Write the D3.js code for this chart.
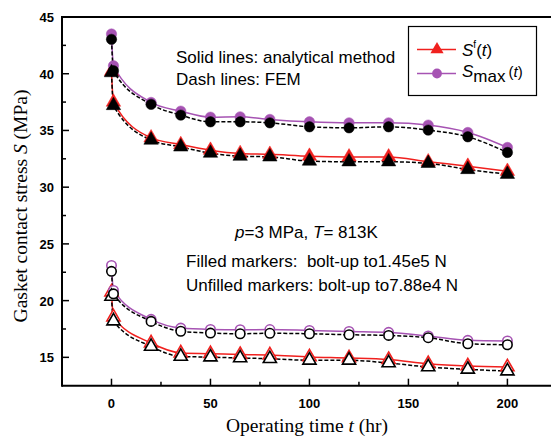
<!DOCTYPE html>
<html>
<head>
<meta charset="utf-8">
<script src="https://cdn.jsdelivr.net/npm/d3@7"></script>
<style>
	body { margin: 0; background: #fff; }
	svg { display: block; }
	.sans { font-family: "Liberation Sans", Arial, sans-serif; }
	.serif { font-family: "Liberation Serif", "Times New Roman", serif; }
</style>
</head>
<body>
<svg id="chart" width="551" height="438"></svg>
<script>
// operating time (hr)
const times = [0, 1, 20, 35, 50, 65, 80, 100, 120, 140, 160, 180, 200];

// bolt-up to 1.45e5 N (filled markers)
const sfAnalyticHigh = [40.2, 37.5, 34.35, 33.76, 33.26, 32.97, 32.9, 32.73, 32.67, 32.67, 32.24, 31.85, 31.4];
const sfFemHigh = [40.1, 37.2, 34.15, 33.55, 33.0, 32.73, 32.67, 32.3, 32.24, 32.24, 32.1, 31.56, 31.14];
const smaxAnalyticHigh = [43.5, 40.7, 37.47, 36.7, 36.17, 36.2, 35.97, 35.76, 35.67, 35.67, 35.47, 34.82, 33.5];
const smaxFemHigh = [43.03, 40.26, 37.3, 36.35, 35.76, 35.76, 35.67, 35.32, 35.23, 35.32, 35.03, 34.44, 33.06];

// bolt-up to 7.88e4 N (unfilled markers)
const sfAnalyticLow = [20.75, 18.55, 16.26, 15.38, 15.32, 15.24, 15.2, 15.03, 14.94, 14.8, 14.44, 14.24, 14.15];
const sfFemLow = [20.37, 18.2, 15.96, 15.08, 15.02, 14.94, 14.88, 14.74, 14.74, 14.5, 14.15, 13.94, 13.79];
const smaxAnalyticLow = [23.1, 20.9, 18.35, 17.58, 17.46, 17.43, 17.45, 17.37, 17.28, 17.2, 16.88, 16.5, 16.44];
const smaxFemLow = [22.58, 20.6, 18.17, 17.3, 17.14, 17.08, 17.12, 17.08, 16.99, 16.93, 16.73, 16.2, 16.11];

const xTicks = [0, 50, 100, 150, 200],
	xMinor = [25, 75, 125, 175],
	yTicks = [15, 20, 25, 30, 35, 40, 45],
	yMinor = [17.5, 22.5, 27.5, 32.5, 37.5, 42.5];

const red = '#f0201e',
	purple = '#a653b3';

const svg = d3.select('#chart');
const x = d3.scaleLinear([-25, 220], [62, 547]),
	y = d3.scaleLinear([12.5, 45], [385.7, 17]);

const toPoints = values => values.map((v, i) => [times[i], v]);
const line = d3.line().x(d => x(d[0])).y(d => y(d[1])).curve(d3.curveMonotoneX);

const series = [
	{analytic: sfAnalyticHigh, fem: sfFemHigh, color: red, shape: d3.symbolTriangle, filled: true},
	{analytic: smaxAnalyticHigh, fem: smaxFemHigh, color: purple, shape: d3.symbolCircle, filled: true},
	{analytic: sfAnalyticLow, fem: sfFemLow, color: red, shape: d3.symbolTriangle, filled: false},
	{analytic: smaxAnalyticLow, fem: smaxFemLow, color: purple, shape: d3.symbolCircle, filled: false}
];

const sizeOf = s => s === d3.symbolTriangle ? 90 : 85;

// analytical solid lines
series.forEach(s => {
	svg.append('path')
		.attr('d', line(toPoints(s.analytic)))
		.attr('fill', 'none')
		.attr('stroke', s.color)
		.attr('stroke-width', 1.5);
});

// FEM dash lines
series.forEach(s => {
	svg.append('path')
		.attr('d', line(toPoints(s.fem)))
		.attr('fill', 'none')
		.attr('stroke', '#000')
		.attr('stroke-width', 1.5)
		.attr('stroke-dasharray', '4,2');
});

// markers: coloured first, black on top
const drawMarkers = (values, s, color) => {
	svg.append('g').selectAll('path')
		.data(toPoints(values))
		.join('path')
		.attr('transform', d => `translate(${x(d[0])},${y(d[1])})`)
		.attr('d', d3.symbol(s.shape, s.filled ? sizeOf(s.shape) : sizeOf(s.shape) - 15))
		.attr('fill', s.filled ? color : '#fff')
		.attr('stroke', color)
		.attr('stroke-width', s.filled ? 0.5 : 1.6);
};
series.forEach(s => drawMarkers(s.analytic, s, s.color));
series.forEach(s => drawMarkers(s.fem, s, '#000'));

// axes frame
const axisG = svg.append('g').attr('stroke', '#000');
axisG.append('line').attr('x1', x(-25)).attr('x2', 551).attr('y1', y(12.5)).attr('y2', y(12.5)).attr('stroke-width', 2);
axisG.append('line').attr('x1', x(-25)).attr('x2', 551).attr('y1', y(45)).attr('y2', y(45)).attr('stroke-width', 2);
axisG.append('line').attr('x1', x(-25)).attr('x2', x(-25)).attr('y1', y(12.5) + 1).attr('y2', y(45) - 1).attr('stroke-width', 2);

axisG.selectAll('.xt').data(xTicks).join('line')
	.attr('x1', d => x(d)).attr('x2', d => x(d))
	.attr('y1', y(12.5)).attr('y2', y(12.5) - 7).attr('stroke-width', 1.5);
axisG.selectAll('.xm').data(xMinor).join('line')
	.attr('x1', d => x(d)).attr('x2', d => x(d))
	.attr('y1', y(12.5)).attr('y2', y(12.5) - 4).attr('stroke-width', 1.5);
axisG.selectAll('.yt').data(yTicks).join('line')
	.attr('x1', x(-25)).attr('x2', x(-25) + 7)
	.attr('y1', d => y(d)).attr('y2', d => y(d)).attr('stroke-width', 1.5);
axisG.selectAll('.ym').data(yMinor).join('line')
	.attr('x1', x(-25)).attr('x2', x(-25) + 4)
	.attr('y1', d => y(d)).attr('y2', d => y(d)).attr('stroke-width', 1.5);

svg.append('g').attr('class', 'sans').selectAll('text').data(xTicks).join('text')
	.attr('x', d => x(d)).attr('y', 408)
	.attr('text-anchor', 'middle')
	.attr('font-size', 13).attr('font-weight', 'bold')
	.text(d => d);
svg.append('g').attr('class', 'sans').selectAll('text').data(yTicks).join('text')
	.attr('x', 54).attr('y', d => y(d) + 5)
	.attr('text-anchor', 'end')
	.attr('font-size', 13).attr('font-weight', 'bold')
	.text(d => d);

// axis titles
const xTitle = svg.append('text').attr('class', 'serif')
	.attr('x', 307).attr('y', 432).attr('text-anchor', 'middle').attr('font-size', 19.5);
xTitle.append('tspan').text('Operating time ');
xTitle.append('tspan').attr('font-style', 'italic').text('t');
xTitle.append('tspan').text(' (hr)');

const yTitle = svg.append('text').attr('class', 'serif')
	.attr('transform', 'translate(27,206) rotate(-90)')
	.attr('text-anchor', 'middle').attr('font-size', 19.5);
yTitle.append('tspan').text('Gasket contact stress ');
yTitle.append('tspan').attr('font-style', 'italic').text('S');
yTitle.append('tspan').text(' (MPa)');

// annotations
const note = (tx, ty, parts) => {
	const t = svg.append('text').attr('class', 'sans').attr('x', tx).attr('y', ty).attr('font-size', 17)
		.attr('xml:space', 'preserve');
	parts.forEach(p => t.append('tspan').attr('font-style', p[1] ? 'italic' : null).text(p[0]));
};
note(176, 63, [['Solid lines: analytical method']]);
note(176, 85, [['Dash lines: FEM']]);
note(235, 238, [['p', true], ['=3 MPa, '], ['T', true], ['= 813K']]);
note(186, 267, [['Filled markers:  bolt-up to1.45e5 N']]);
note(186, 291, [['Unfilled markers: bolt-up to7.88e4 N']]);

// legend
const legend = svg.append('g');
legend.append('rect')
	.attr('x', 408.5).attr('y', 26.5).attr('width', 128).attr('height', 69)
	.attr('fill', '#fff').attr('stroke', '#000').attr('stroke-width', 1.2);
const legendItems = [
	{color: red, shape: d3.symbolTriangle, y: 49.5},
	{color: purple, shape: d3.symbolCircle, y: 73.5}
];
legendItems.forEach(it => {
	legend.append('line').attr('x1', 417).attr('x2', 456).attr('y1', it.y).attr('y2', it.y)
		.attr('stroke', it.color).attr('stroke-width', 1.5);
	legend.append('path').attr('d', d3.symbol(it.shape, 75)())
		.attr('transform', `translate(437,${it.y})`).attr('fill', it.color);
});
const l1 = legend.append('text').attr('class', 'sans').attr('x', 462).attr('y', 56).attr('font-size', 17);
l1.append('tspan').attr('font-style', 'italic').text('S');
l1.append('tspan').attr('font-size', 10).attr('dy', -8).text('f');
l1.append('tspan').attr('dy', 8).text('(');
l1.append('tspan').attr('font-style', 'italic').text('t');
l1.append('tspan').text(')');
const l2 = legend.append('text').attr('class', 'sans').attr('x', 462).attr('y', 77).attr('font-size', 17);
l2.append('tspan').attr('font-style', 'italic').text('S');
l2.append('tspan').attr('dy', 5).text('max');
l2.append('tspan').attr('dy', -5).attr('dx', 3).attr('font-size', 15).text('(');
l2.append('tspan').attr('font-style', 'italic').attr('font-size', 15).text('t');
l2.append('tspan').attr('font-size', 15).text(')');
</script>
</body>
</html>
